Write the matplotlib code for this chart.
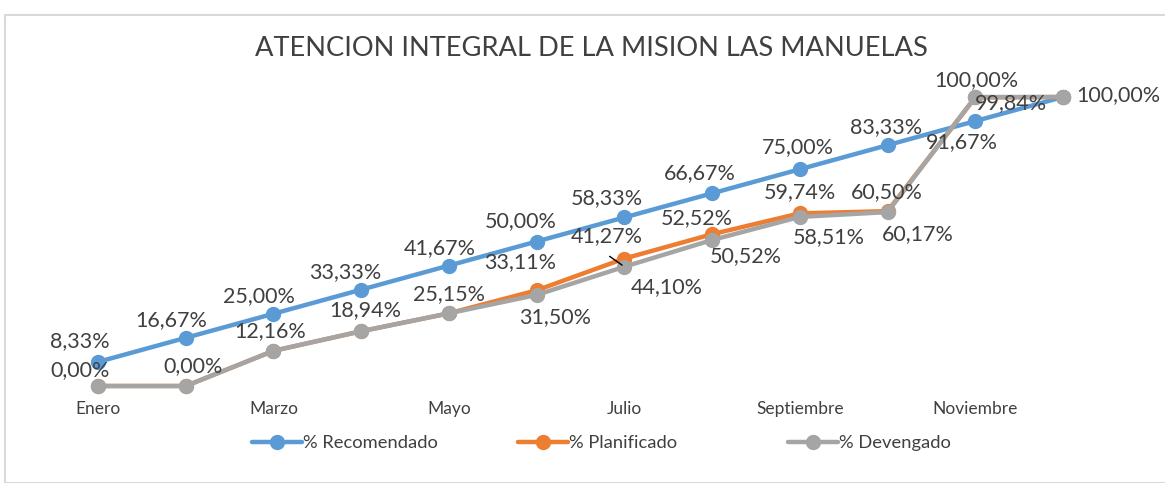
import matplotlib.pyplot as plt
from matplotlib.patches import Rectangle

# datos
meses = ["Enero", "Febrero", "Marzo", "Abril", "Mayo", "Junio", "Julio",
         "Agosto", "Septiembre", "Octubre", "Noviembre", "Diciembre"]
recomendado = [8.33, 16.67, 25.00, 33.33, 41.67, 50.00, 58.33, 66.67, 75.00, 83.33, 91.67, 100.00]
planificado = [0.00, 0.00, 12.16, 18.94, 25.15, 33.11, 44.10, 52.52, 59.74, 60.50, 99.84, 100.00]
devengado = [0.00, 0.00, 12.16, 18.94, 25.15, 31.50, 41.27, 50.52, 58.51, 60.17, 100.00, 100.00]

# posicion de etiquetas (pixeles respecto al punto)
off_rec = [(-18, 21), (-14, 18), (-15, 18), (-16, 18), (-9, 17), (-16, 20),
           (-18, 19), (-12, 20), (-2, 22), (-1, 18), (-13, -21), None]
off_pla = [None, None, None, None, None, (-17, 28), (42, -29), (-15, 16),
           (0, 21), (-1, 19), (36, -6), None]
off_dev = [(-18, 16), (7, 20), (-3, 20), (4, 21), (0, 19), (18, -22), (-18, 31),
           (34, -16), (29, -20), (30, -22), (1, 17), (55, 2)]

plt.rcParams["font.family"] = ["Lato", "DejaVu Sans"]

W, H = 1165, 483
fig = plt.figure(figsize=(W / 100, H / 100), dpi=100)

# ejes: Enero en x=98px, Diciembre en x=1063px; 0% en y=386px, 100% en y=97px
left_px, right_px, top_px, bot_px = 55, 1110, 70, 400
ax = fig.add_axes([left_px / W, (H - bot_px) / H, (right_px - left_px) / W, (bot_px - top_px) / H])
ppx = (1063 - 98) / 11
ax.set_xlim(-(98 - left_px) / ppx, 11 + (right_px - 1063) / ppx)
ppy = (386 - 97) / 100
ax.set_ylim(-(bot_px - 386) / ppy, 100 + (97 - top_px) / ppy)

x = list(range(len(meses)))
series = [
    ("% Recomendado", recomendado, "#5B9BD5", off_rec),
    ("% Planificado", planificado, "#ED7D31", off_pla),
    ("% Devengado", devengado, "#A5A5A5", off_dev),
]
lineas = []
for i, (nombre, vals, color, offs) in enumerate(series):
    ln, = ax.plot(x, vals, color=color, lw=3.2, marker="o", ms=10, label=nombre,
                  zorder=2 + i, solid_capstyle="round")
    lineas.append(ln)

for i, (nombre, vals, color, offs) in enumerate(series):
    for xi, v, o in zip(x, vals, offs):
        if o is None:
            continue
        ax.annotate(f"{v:.2f}%".replace(".", ","), (xi, v), xytext=o,
                    textcoords="offset pixels", ha="center", va="center",
                    fontsize=15.5, color="#404040", zorder=10)

# linea guia de la etiqueta de julio
ax.annotate("", (6, devengado[6]), xytext=(-17, 12), textcoords="offset pixels",
            arrowprops=dict(arrowstyle="-", color="black", lw=1), zorder=11)

ax.set_xticks(x[::2])
ax.set_xticklabels(meses[::2], fontsize=12.5, color="#404040")
ax.tick_params(length=0, pad=1)
ax.set_yticks([])
for s in ax.spines.values():
    s.set_visible(False)

fig.text(591 / W, 1 - 48 / H, "ATENCION INTEGRAL DE LA MISION LAS MANUELAS",
         ha="center", va="center", fontsize=19.6, color="#404040")

# leyenda: una entrada por bloque, como en Excel
for ln, x0 in zip(lineas, [252, 518, 788]):
    fig.legend(handles=[ln], loc="center left", bbox_to_anchor=(x0 / W, 1 - 443 / H),
               frameon=False, fontsize=13.2, handlelength=2.7, handletextpad=0.1,
               borderpad=0, borderaxespad=0, labelcolor="#404040")

fig.patches.append(Rectangle((5 / W, 0), 1.0, 1 - 15 / H, transform=fig.transFigure,
                             fill=False, edgecolor="#D9D9D9", lw=1.5))

fig.savefig("out.png", dpi=100)
